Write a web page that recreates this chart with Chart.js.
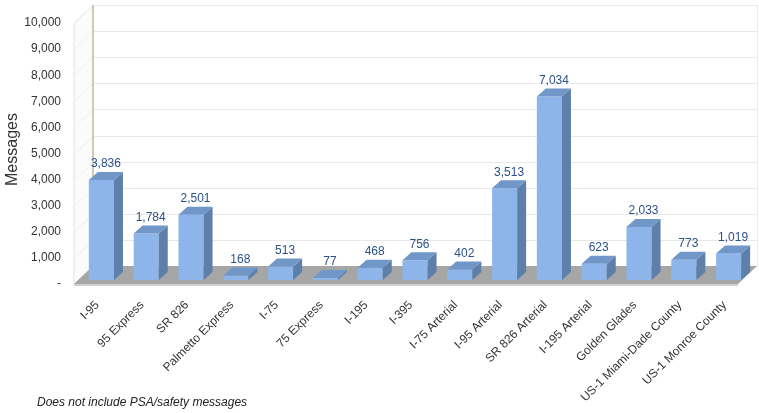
<!DOCTYPE html>
<html>
<head>
<meta charset="utf-8">
<title>Messages by facility</title>
<script src="https://cdn.jsdelivr.net/npm/chart.js@4.4.1/dist/chart.umd.min.js"></script>
<style>
    html, body { margin: 0; padding: 0; background: #fff; }
    #wrap { position: relative; width: 759px; height: 413px; }
</style>
</head>
<body>
<div id="wrap"><canvas id="msgChart" width="759" height="413"></canvas></div>
<script>
// Chart data
const categories = [
    "I-95", "95 Express", "SR 826", "Palmetto Express", "I-75", "75 Express",
    "I-195", "I-395", "I-75 Arterial", "I-95 Arterial", "SR 826 Arterial",
    "I-195 Arterial", "Golden Glades", "US-1 Miami-Dade County", "US-1 Monroe County"
];
const messageCounts = [3836, 1784, 2501, 168, 513, 77, 468, 756, 402, 3513, 7034, 623, 2033, 773, 1019];
const yTickValues = [0, 1000, 2000, 3000, 4000, 5000, 6000, 7000, 8000, 9000, 10000];
const yTickLabels = ["-", "1,000", "2,000", "3,000", "4,000", "5,000", "6,000", "7,000", "8,000", "9,000", "10,000"];
const footnote = "Does not include PSA/safety messages";

const FONT = "'Liberation Sans', Arial, sans-serif";

// 3D look: walls, floor, bar sides and tops
const FRONT = { dx: -5, dy: 4 };
const BACK = { dx: 14, dy: -14 };
const BAR_DEPTH = { dx: 9, dy: -8 };

const box3d = {
    id: "box3d",
    beforeDatasetsDraw(chart) {
        const ctx = chart.ctx;
        const area = chart.chartArea;
        const y = chart.scales.y;
        const L = area.left, R = area.right;
        const top = y.getPixelForValue(10000);
        const base = y.getPixelForValue(0);

        ctx.save();
        // left wall
        ctx.fillStyle = "#fbfbfb";
        ctx.beginPath();
        ctx.moveTo(L + FRONT.dx, top + FRONT.dy);
        ctx.lineTo(L + BACK.dx, top + BACK.dy);
        ctx.lineTo(L + BACK.dx, base + BACK.dy);
        ctx.lineTo(L + FRONT.dx, base + FRONT.dy);
        ctx.closePath();
        ctx.fill();
        ctx.strokeStyle = "#e2e2e2";
        ctx.lineWidth = 1;
        ctx.stroke();

        // back wall
        ctx.fillStyle = "#ffffff";
        ctx.fillRect(L + BACK.dx, top + BACK.dy, R + 6 - (L + BACK.dx), base - top);
        ctx.strokeStyle = "#ececec";
        ctx.strokeRect(L + BACK.dx + 0.5, top + BACK.dy + 0.5, R + 6 - (L + BACK.dx), base - top);

        // gridlines
        yTickValues.forEach(v => {
            if (v === 0) return;
            const py = Math.round(y.getPixelForValue(v)) + 0.5;
            ctx.strokeStyle = "#e8e8e8";
            ctx.beginPath();
            ctx.moveTo(L + BACK.dx, py + BACK.dy);
            ctx.lineTo(R + 6, py + BACK.dy);
            ctx.stroke();
            ctx.strokeStyle = "#f0f0f0";
            ctx.beginPath();
            ctx.moveTo(L + FRONT.dx, py + FRONT.dy);
            ctx.lineTo(L + BACK.dx, py + BACK.dy);
            ctx.stroke();
        });

        // tan edge of back wall
        ctx.strokeStyle = "#c9bf9c";
        ctx.lineWidth = 1.5;
        ctx.beginPath();
        ctx.moveTo(L + BACK.dx, top + BACK.dy);
        ctx.lineTo(L + BACK.dx, base + BACK.dy);
        ctx.stroke();

        // floor
        ctx.fillStyle = "#a6a6a6";
        ctx.beginPath();
        ctx.moveTo(L + FRONT.dx, base + FRONT.dy);
        ctx.lineTo(L + BACK.dx, base + BACK.dy);
        ctx.lineTo(R + 6, base + BACK.dy);
        ctx.lineTo(R - 13, base + FRONT.dy);
        ctx.closePath();
        ctx.fill();
        ctx.fillStyle = "#cfcfcf";
        ctx.fillRect(L + FRONT.dx, base + FRONT.dy, R - 13 - (L + FRONT.dx), 2);
        ctx.restore();
    },
    afterDatasetsDraw(chart) {
        const ctx = chart.ctx;
        const meta = chart.getDatasetMeta(0);
        ctx.save();
        meta.data.forEach((bar, i) => {
            const w = bar.width;
            const left = bar.x - w / 2, right = bar.x + w / 2;
            const d = BAR_DEPTH;
            // side face
            ctx.fillStyle = "#5e7fa9";
            ctx.beginPath();
            ctx.moveTo(right, bar.y);
            ctx.lineTo(right + d.dx, bar.y + d.dy);
            ctx.lineTo(right + d.dx, bar.base + d.dy);
            ctx.lineTo(right, bar.base);
            ctx.closePath();
            ctx.fill();
            // top face
            ctx.fillStyle = "#7196c8";
            ctx.beginPath();
            ctx.moveTo(left, bar.y);
            ctx.lineTo(left + d.dx, bar.y + d.dy);
            ctx.lineTo(right + d.dx, bar.y + d.dy);
            ctx.lineTo(right, bar.y);
            ctx.closePath();
            ctx.fill();
            // value label
            ctx.fillStyle = "#2c5189";
            ctx.font = "12px " + FONT;
            ctx.textAlign = "center";
            ctx.textBaseline = "bottom";
            ctx.fillText(messageCounts[i].toLocaleString("en-US"), bar.x + d.dx / 2, bar.y + d.dy - 2);
        });
        ctx.restore();
    },
    afterDraw(chart) {
        const ctx = chart.ctx;
        ctx.save();
        ctx.fillStyle = "#222";
        ctx.font = "italic 12px " + FONT;
        ctx.textAlign = "left";
        ctx.textBaseline = "middle";
        ctx.fillText(footnote, 37, 403);
        ctx.restore();
    }
};

const ctx = document.getElementById("msgChart").getContext("2d");

new Chart(ctx, {
    type: "bar",
    data: {
        labels: categories,
        datasets: [{
            label: "Messages",
            data: messageCounts,
            backgroundColor: "#8db5e9",
            borderWidth: 0,
            barPercentage: 0.56,
            categoryPercentage: 1.0
        }]
    },
    options: {
        responsive: false,
        animation: false,
        devicePixelRatio: 1,
        layout: { padding: { top: 19, right: 8, left: 0, bottom: 0 } },
        plugins: {
            legend: { display: false },
            tooltip: { enabled: false }
        },
        scales: {
            x: {
                grid: { display: false },
                border: { display: false },
                ticks: {
                    autoSkip: false,
                    maxRotation: 45,
                    minRotation: 45,
                    padding: 10,
                    labelOffset: -4,
                    color: "#333",
                    font: { family: FONT, size: 12 }
                },
                afterFit(scale) { scale.height = 133; }
            },
            y: {
                min: 0,
                max: 10000,
                grid: { display: false },
                border: { display: false },
                afterBuildTicks(scale) {
                    scale.ticks = yTickValues.map(v => ({ value: v }));
                },
                ticks: {
                    padding: 10,
                    labelOffset: 4,
                    color: "#333",
                    font: { family: FONT, size: 12 },
                    callback: (value) => yTickLabels[yTickValues.indexOf(value)]
                },
                title: {
                    display: true,
                    text: "Messages",
                    color: "#333",
                    font: { family: FONT, size: 16 },
                    padding: { top: 3, bottom: 0 }
                },
                afterFit(scale) { scale.width = 79; }
            }
        }
    },
    plugins: [box3d]
});
</script>
</body>
</html>
